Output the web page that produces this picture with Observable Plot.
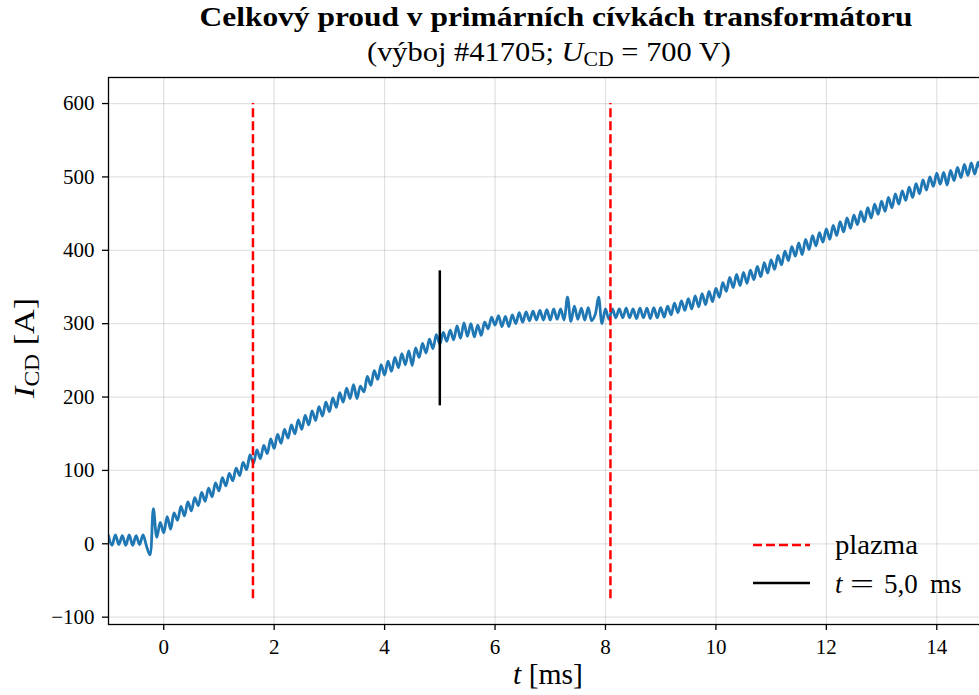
<!DOCTYPE html>
<html><head><meta charset="utf-8">
<script src="https://cdn.jsdelivr.net/npm/d3@7"></script>
<script src="https://cdn.jsdelivr.net/npm/@observablehq/plot@0.6"></script>
<style>
html,body{margin:0;padding:0;background:#fff;overflow:hidden;width:979px;height:695px;}
#fig{position:relative;width:1010px;height:695px;}
#fig svg{position:absolute;left:0;top:0;}
</style></head><body><div id="fig"></div>
<script>
// ---- data ----
const TITLE = "Celkový proud v primárních cívkách transformátoru";
const SUBTITLE_PARTS = ["(výboj #41705; ", "U", "CD", " = 700 V)"];
const X_TICKS = [0, 2, 4, 6, 8, 10, 12, 14];
const X_TICK_LABELS = ["0", "2", "4", "6", "8", "10", "12", "14"];
const Y_TICKS = [-100, 0, 100, 200, 300, 400, 500, 600];
const Y_TICK_LABELS = ["−100", "0", "100", "200", "300", "400", "500", "600"];
const PLASMA_TIMES = [1.616, 8.09];      // ms, plasma start / end
const PLASMA_SPAN = [-75, 600];          // A, vertical extent of dashed lines
const MARK_TIME = 5.0;                   // ms
const MARK_SPAN = [188, 372];            // A
const LEGEND_LABELS = ["plazma", "t", "=", "5,0", "ms"];
// sampled current (A), sampling start and step in ms
const SAMPLE_START = -1.0;
const SAMPLE_STEP = 0.0625;
const CURRENT = [
  11,-2,12,-1,11,-2,12,-2,11,-1,12,-3,
  -15,48,9,29,15,37,20,42,
  32,51,38,57,45,63,52,70,58,76,64,83,
  72,90,79,96,86,103,93,111,101,121,110,128,116,134,123,143,
  130,149,137,156,144,162,150,169,156,175,162,181,168,187,174,193,
  180,199,186,206,193,212,198,217,198,215,207,228,216,236,224,244,
  230,249,235,254,240,259,244,263,243,267,254,273,260,279,266,285,
  272,288,276,291,278,297,280,301,283,300,282,298,284,302,293,309,
  298,311,296,310,296,312,300,315,302,316,304,317,305,318,305,319,
  305,320,306,320,305,336,303,324,306,321,305,322,304,312,336,300,
  320,306,320,308,320,308,321,308,320,307,321,308,321,307,322,308,
  322,309,324,312,328,315,331,318,334,320,338,323,341,326,344,330,
  348,336,356,344,363,349,367,352,370,355,373,360,378,364,383,369,
  387,374,393,380,399,386,405,392,410,394,415,401,420,406,424,411,
  429,415,434,420,439,425,444,430,448,435,453,439,458,444,463,449,
  467,453,472,458,477,463,481,468,486,472,491,477,496,482,500,487,
  505,490,506,489,509,495,513,499,517,502,519,504,520,507,518,509,521
];
const data = CURRENT.map((v, i) => ({t: SAMPLE_START + i * SAMPLE_STEP, i: v}));

const FONT = "Liberation Serif, DejaVu Serif, serif";
const W = 1010, H = 695;

const chart = Plot.plot({
  width: W, height: H,
  marginLeft: 108, marginRight: 18.5, marginTop: 77, marginBottom: 71,
  style: {fontFamily: FONT, color: "#000", background: "transparent", overflow: "visible"},
  x: {domain: [-1, 15], axis: null},
  y: {domain: [-110, 635.5], axis: null},
  marks: [
    Plot.gridX(X_TICKS, {stroke: "#000", strokeOpacity: 0.11, strokeWidth: 1.3}),
    Plot.gridY(Y_TICKS, {stroke: "#000", strokeOpacity: 0.11, strokeWidth: 1.3}),
    Plot.line(data, {x: "t", y: "i", stroke: "#1f77b4", strokeWidth: 2.8, curve: "catmull-rom", clip: true}),
    Plot.ruleX(PLASMA_TIMES, {y1: PLASMA_SPAN[0], y2: PLASMA_SPAN[1], stroke: "#ff0000", strokeWidth: 2.5, strokeDasharray: "9,4"}),
    Plot.ruleX([MARK_TIME], {y1: MARK_SPAN[0], y2: MARK_SPAN[1], stroke: "#000", strokeWidth: 2.5}),
    Plot.axisX({ticks: X_TICKS, tickFormat: (d) => X_TICK_LABELS[X_TICKS.indexOf(d)], tickSize: 6, tickPadding: 9, fontSize: 21, fontFamily: FONT, label: null, stroke: "#000", strokeWidth: 1.3}),
    Plot.axisY({ticks: Y_TICKS, tickFormat: (d) => Y_TICK_LABELS[Y_TICKS.indexOf(d)], tickSize: 6, tickPadding: 8, fontSize: 21, fontFamily: FONT, label: null, stroke: "#000", strokeWidth: 1.3}),
    Plot.frame({stroke: "#000", strokeWidth: 1.3})
  ]
});
document.getElementById("fig").appendChild(chart);

// ---- overlay: titles, axis labels, legend ----
const svg = d3.select("#fig").append("svg")
  .attr("width", W).attr("height", H)
  .style("font-family", FONT).style("pointer-events", "none");

svg.append("text").attr("x", 556).attr("y", 26).attr("text-anchor", "middle")
  .attr("font-size", 28).attr("font-weight", "bold")
  .attr("textLength", 713).attr("lengthAdjust", "spacingAndGlyphs").text(TITLE);

const st = svg.append("text").attr("x", 549).attr("y", 61).attr("text-anchor", "middle").attr("font-size", 28)
  .attr("textLength", 364).attr("lengthAdjust", "spacingAndGlyphs");
st.append("tspan").text(SUBTITLE_PARTS[0]);
st.append("tspan").attr("font-style", "italic").text(SUBTITLE_PARTS[1]);
st.append("tspan").attr("font-size", 20).attr("dy", 5).text(SUBTITLE_PARTS[2]);
st.append("tspan").attr("dy", -5).text(SUBTITLE_PARTS[3]);

const yl = svg.append("text").attr("transform", "translate(34,348) rotate(-90)").attr("text-anchor", "middle").attr("font-size", 29)
  .attr("textLength", 100).attr("lengthAdjust", "spacingAndGlyphs");
yl.append("tspan").attr("font-style", "italic").text("I");
yl.append("tspan").attr("font-size", 20).attr("dy", 5).text("CD");
yl.append("tspan").attr("dy", -5).text(" [A]");

const xl = svg.append("text").attr("x", 548).attr("y", 684).attr("text-anchor", "middle").attr("font-size", 29)
  .attr("textLength", 70).attr("lengthAdjust", "spacingAndGlyphs");
xl.append("tspan").attr("font-style", "italic").text("t");
xl.append("tspan").text(" [ms]");

// legend
const lg = svg.append("g");
lg.append("line").attr("x1", 753).attr("x2", 810).attr("y1", 545).attr("y2", 545)
  .attr("stroke", "#ff0000").attr("stroke-width", 2.5).attr("stroke-dasharray", "9,4");
lg.append("line").attr("x1", 753).attr("x2", 810).attr("y1", 583).attr("y2", 583)
  .attr("stroke", "#000").attr("stroke-width", 2.5);
lg.append("text").attr("x", 835).attr("y", 554).attr("font-size", 27)
  .attr("textLength", 83).attr("lengthAdjust", "spacingAndGlyphs").text(LEGEND_LABELS[0]);
lg.append("text").attr("x", 835).attr("y", 593).attr("font-size", 27).attr("font-style", "italic").text(LEGEND_LABELS[1]);
lg.append("text").attr("x", 850).attr("y", 593).attr("font-size", 27)
  .attr("textLength", 24).attr("lengthAdjust", "spacingAndGlyphs").text(LEGEND_LABELS[2]);
lg.append("text").attr("x", 884).attr("y", 593).attr("font-size", 27).text(LEGEND_LABELS[3]);
lg.append("text").attr("x", 930).attr("y", 593).attr("font-size", 27).text(LEGEND_LABELS[4]);
</script></body></html>
